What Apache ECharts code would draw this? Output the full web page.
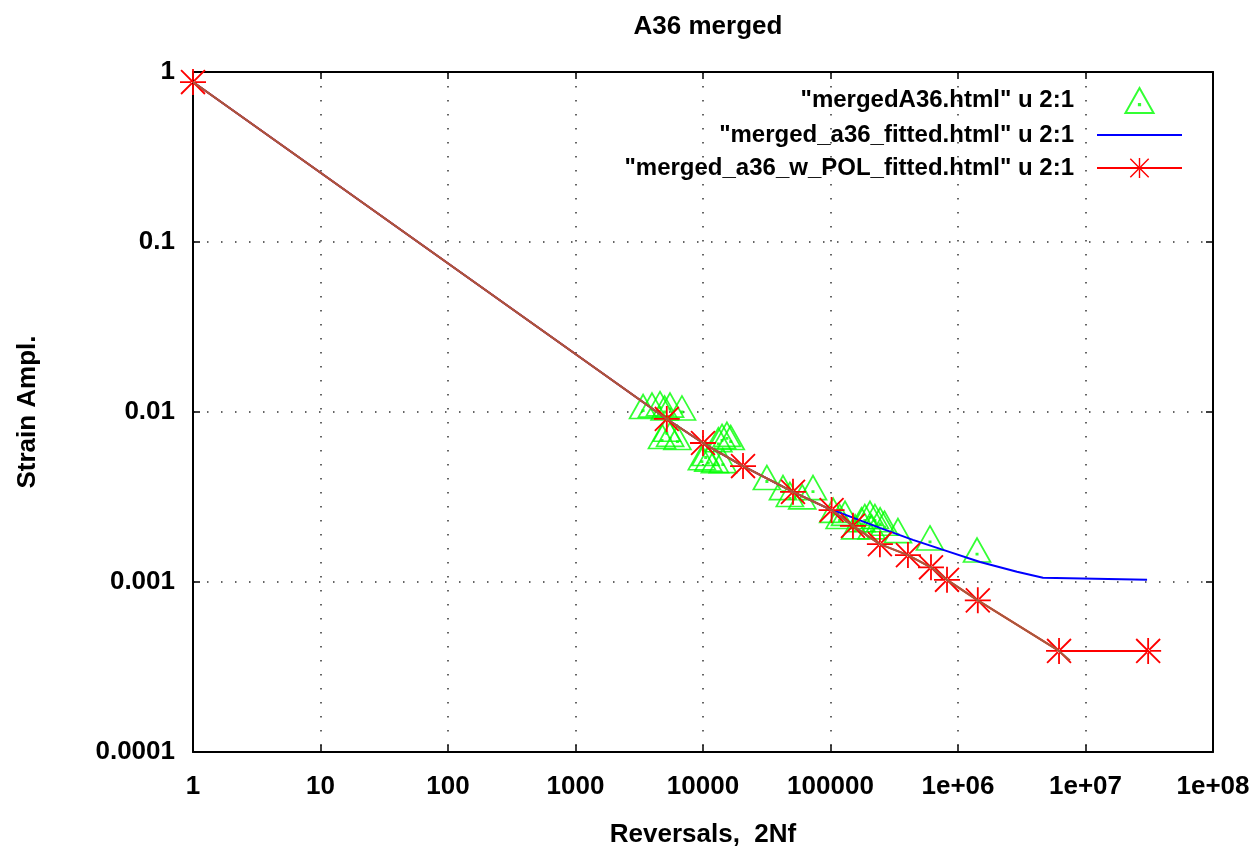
<!DOCTYPE html>
<html><head><meta charset="utf-8">
<script src="https://cdn.jsdelivr.net/npm/echarts@6/dist/echarts.min.js"></script>
<style>html,body{margin:0;padding:0;background:#fff}#c{width:1259px;height:852px}</style>
</head><body><div id="c"></div>
<script>
// ---- data ----
const titleText = 'A36 merged';
const xName = 'Reversals,  2Nf';
const yName = 'Strain Ampl.';
const seriesNames = ['"mergedA36.html" u 2:1', '"merged_a36_fitted.html" u 2:1', '"merged_a36_w_POL_fitted.html" u 2:1'];
const xTickLabels = ['1','10','100','1000','10000','100000','1e+06','1e+07','1e+08'];
const yTickLabels = ['0.0001','0.001','0.01','0.1','1'];

// measured data (triangles)
const mergedX = [3390, 3980, 4600, 5510, 6840, 5000,
                 4770, 5520, 6300, 5200,
                 14100, 15400, 16500, 13200,
                 10500, 11000, 12400, 14300, 9800,
                 31700, 42400, 72900, 60000, 48000,
                 105000, 118000, 130000,
                 156000, 175000, 186000, 204000, 223000, 245000, 265000, 210000,
                 338000, 603000, 1410000];
const mergedY = [0.0102, 0.0104, 0.0106, 0.0104, 0.0100, 0.0100,
                 0.0068, 0.0070, 0.0067, 0.0075,
                 0.0068, 0.0070, 0.0067, 0.0065,
                 0.0054, 0.0050, 0.0049, 0.0049, 0.0051,
                 0.0039, 0.0034, 0.0034, 0.0030, 0.0031,
                 0.0025, 0.0023, 0.0024,
                 0.0020, 0.0022, 0.0023, 0.0024, 0.0023, 0.0022, 0.0021, 0.0020,
                 0.0019, 0.00172, 0.00146];

// fitted curve (blue)
const fittedX = [1, 5200, 10000, 20600, 50800, 102000, 108500, 244000, 443000, 820000, 1490000, 2900000, 4640000, 30400000];
const fittedY = [0.873, 0.0091, 0.00657, 0.00481, 0.00339, 0.00265, 0.00262, 0.00208, 0.00177, 0.00152, 0.00131, 0.00115, 0.00106, 0.00103];

// fitted with POL (red stars)
const polX = [1, 5200, 10000, 20600, 50800, 102000, 150000, 244000, 405000, 614000, 820000, 1430000, 6200000, 31000000];
const polY = [0.873, 0.0091, 0.00657, 0.00481, 0.00339, 0.00265, 0.00214, 0.00167, 0.00144, 0.00122, 0.00103, 0.00078, 0.000393, 0.000393];

// overlaid brown trace (no legend entry)
const traceX = [1, 5200, 10000, 20600, 50800, 102000, 150000, 244000, 405000, 614000, 820000, 1430000, 6200000, 7550000];
const traceY = [0.873, 0.0091, 0.00657, 0.00481, 0.00339, 0.00265, 0.00214, 0.00167, 0.00144, 0.00122, 0.00103, 0.00078, 0.000393, 0.000345];

// ---- build ----
const zip = (xs, ys) => xs.map((x, i) => [x, ys[i]]);
const FONT = "'Liberation Sans', Arial, Helvetica, sans-serif";
const txt = (size) => ({ fontFamily: FONT, fontSize: size, fontWeight: 'bold', color: '#000' });

const triPath = 'path://M0,-16L13.5,8L-13.5,8Z M-0.6,-0.6L0.6,-0.6L0.6,0.6L-0.6,0.6Z';
const starPath = 'path://M-13,-0.9L13,-0.9L13,0.9L-13,0.9Z M-0.9,-13L0.9,-13L0.9,13L-0.9,13Z ' +
  'M-12.6,-11.3L-11.3,-12.6L12.6,11.3L11.3,12.6Z M-12.6,11.3L-11.3,12.6L12.6,-11.3L11.3,-12.6Z';

const gridDots = { color: '#333', width: 1.5, type: [1.5, 12.5] };
const axisLine = { show: true, lineStyle: { color: '#000', width: 2 } };
const axisTick = { show: true, inside: true, length: 7, lineStyle: { color: '#000', width: 1.5 } };
const xFmt = v => xTickLabels[Math.round(Math.log10(v))];
const yFmt = v => yTickLabels[Math.round(Math.log10(v)) + 4];

const option = {
  animation: false,
  backgroundColor: '#fff',
  title: { text: titleText, left: 703, top: 9, textAlign: 'center', textStyle: txt(26) },
  grid: { left: 193, right: 46, top: 72, bottom: 100, outerBoundsMode: 'none', containLabel: false },
  legend: {
    orient: 'vertical', align: 'right', right: 71, top: 82,
    itemWidth: 85, itemHeight: 25, itemGap: 9,
    textStyle: Object.assign(txt(24), { padding: [0, 18, 0, 0] }),
    data: [
      { name: seriesNames[0] },
      { name: seriesNames[1], icon: 'path://M0,0L85,0L85,2L0,2Z' },
      { name: seriesNames[2] }
    ]
  },
  xAxis: [
    { type: 'log', logBase: 10, min: 1, max: 1e8, position: 'bottom',
      axisLine, axisTick,
      axisLabel: Object.assign(txt(26), { formatter: xFmt, margin: 22 }),
      splitLine: { show: true, lineStyle: gridDots },
      name: xName, nameLocation: 'middle', nameGap: 70, nameTextStyle: txt(26) },
    { type: 'log', logBase: 10, min: 1, max: 1e8, position: 'top',
      axisLine, axisTick, axisLabel: { show: false }, splitLine: { show: false } }
  ],
  yAxis: [
    { type: 'log', logBase: 10, min: 0.0001, max: 1, position: 'left',
      axisLine, axisTick,
      axisLabel: Object.assign(txt(26), { formatter: yFmt, margin: 18 }),
      splitLine: { show: true, lineStyle: gridDots },
      name: yName, nameLocation: 'middle', nameGap: 152, nameRotate: 90, nameTextStyle: txt(26) },
    { type: 'log', logBase: 10, min: 0.0001, max: 1, position: 'right',
      axisLine, axisTick, axisLabel: { show: false }, splitLine: { show: false } }
  ],
  series: [
    { name: seriesNames[0], type: 'scatter', data: zip(mergedX, mergedY),
      symbol: triPath, symbolSize: [27, 24], symbolOffset: [0, -4],
      itemStyle: { color: 'transparent', borderColor: '#00ff00', borderWidth: 1.7 }, z: 2 },
    { name: seriesNames[1], type: 'line', data: zip(fittedX, fittedY),
      symbol: 'none', lineStyle: { color: '#0000ff', width: 2 }, itemStyle: { color: '#0000ff' }, z: 3 },
    { name: seriesNames[2], type: 'line', data: zip(polX, polY),
      symbol: starPath, symbolSize: 26, showAllSymbol: true,
      lineStyle: { color: '#ff0000', width: 2 }, itemStyle: { color: '#ff0000' }, z: 4 },
    { name: 'trace', type: 'line', data: zip(traceX, traceY),
      symbol: 'none', lineStyle: { color: '#a85a3c', width: 2 }, itemStyle: { color: '#a85a3c' }, z: 5, silent: true }
  ]
};
const chart = echarts.init(document.getElementById('c'), null, { renderer: 'canvas' });
chart.setOption(option);
</script></body></html>
